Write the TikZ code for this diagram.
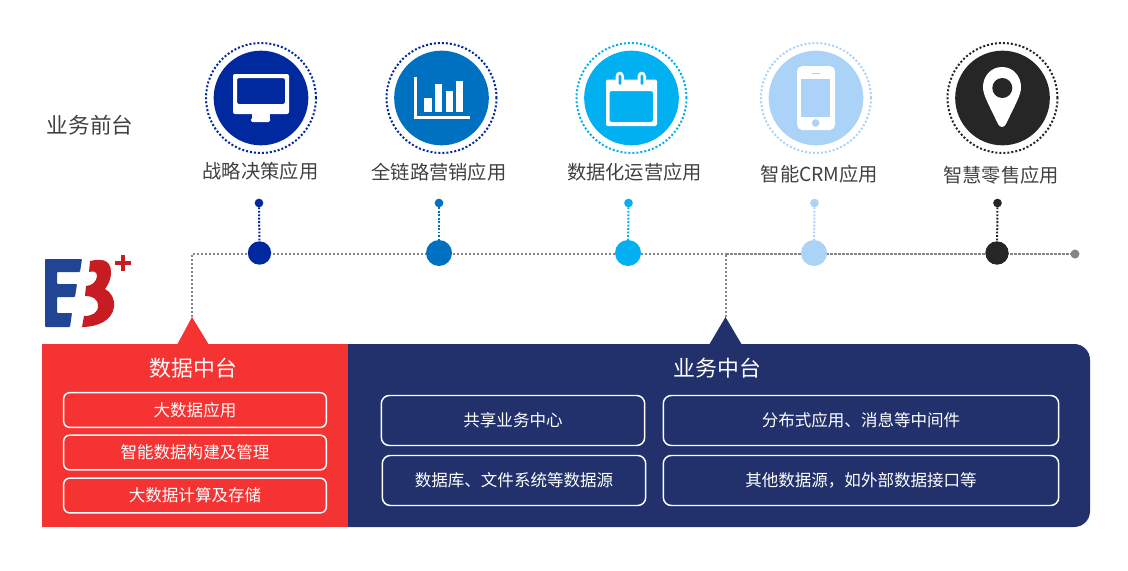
\documentclass[tikz,border=0pt]{standalone}
\usepackage{fontspec}
\setmainfont{Noto Sans CJK SC}
\usetikzlibrary{backgrounds}
\definecolor{cA}{HTML}{00289F}
\definecolor{cB}{HTML}{0070C0}
\definecolor{cC}{HTML}{00B0F0}
\definecolor{cD}{HTML}{ABD3F7}
\definecolor{cE}{HTML}{262626}
\definecolor{redp}{HTML}{F53333}
\definecolor{navyp}{HTML}{22316C}
\definecolor{logoblue}{HTML}{1F4594}
\definecolor{logored}{HTML}{C61C22}
\definecolor{tlgray}{HTML}{858585}
\definecolor{labelc}{HTML}{404040}
\tikzset{
  ringn/.style={circle,draw=#1,line width=1.5pt,dash pattern=on 1.5pt off 1.5pt,minimum size=82.5pt,inner sep=0pt,outer sep=0pt},
  disc/.style={circle,fill=#1,minimum size=71pt,inner sep=0pt,outer sep=0pt},
  hubs/.style={circle,fill=#1,minimum size=17.5pt,inner sep=0pt,outer sep=0pt},
  hubl/.style={circle,fill=#1,minimum size=19.5pt,inner sep=0pt,outer sep=0pt},
  tipn/.style={circle,fill=#1,minimum size=6.5pt,inner sep=0pt,outer sep=0pt},
  endn/.style={circle,fill=tlgray,minimum size=6.75pt,inner sep=0pt,outer sep=0pt},
  stem/.style={draw=#1,line width=1.5pt,dash pattern=on 1.4pt off 1.2pt},
  tline/.style={draw=tlgray,line width=1.5pt,dash pattern=on 1.5pt off 1.5pt},
  tlinedense/.style={draw=tlgray,line width=1.5pt,dash pattern=on 2.25pt off 0.75pt},
  applabel/.style={text=labelc,inner sep=0pt,font=\fontsize{14.45pt}{17pt}\selectfont},
  frontlabel/.style={text=labelc,inner sep=0pt,font=\fontsize{16.2pt}{19pt}\selectfont},
  paneltitle/.style={text=white,inner sep=0pt,font=\fontsize{16.4pt}{19pt}\selectfont},
  redbox/.style={draw=white,line width=1.1pt,rounded corners=4.5pt,minimum width=197pt,minimum height=#1,inner sep=0pt,text=white,font=\fontsize{12.4pt}{15pt}\selectfont},
  navybox/.style={draw=white,line width=1.1pt,rounded corners=6pt,minimum width=#1,minimum height=37.5pt,inner sep=0pt,text=white,font=\fontsize{12.4pt}{15pt}\selectfont}
}
\begin{document}
\begin{tikzpicture}[x=0.75pt,y=-0.75pt]
\useasboundingbox (0,0) rectangle (1128,571);
% panels
\fill[redp] (42,344) rectangle (348,527);
\fill[navyp] (348,344) -- (1074,344) .. controls (1083,344) and (1090,351) .. (1090,360) -- (1090,511) .. controls (1090,520) and (1083,527) .. (1074,527) -- (348,527) -- cycle;
\coordinate (dataapex) at (192,317);
\coordinate (datacorner) at (192,254);
\coordinate (bizapex) at (725.5,317);
\coordinate (bizcorner) at (725.5,254);
\fill[redp] (dataapex) -- (209,345) -- (177,345) -- cycle;
\fill[navyp] (bizapex) -- (742,345) -- (709,345) -- cycle;
% logo
\fill[logoblue,rounded corners=0.6pt] (45,259) -- (82,259) -- (80,272) -- (57,272) -- (57,284) -- (77,284) -- (75,297) -- (57,297) -- (57,313) -- (72,313) -- (70,327) -- (45,327) -- cycle;
\fill[logored] (90,261) .. controls (99,259) and (111,258) .. (111,272) .. controls (111,280) and (108,285) .. (105,289) .. controls (111,292) and (115,299) .. (114,307) .. controls (112,321) and (97,327) .. (82,327) -- (84,316) .. controls (92,316) and (98,313) .. (98,306) .. controls (98,299) and (93,296) .. (85,296) -- (86,286) .. controls (92,286) and (97,281) .. (97,276) .. controls (97,271) and (93,271) .. (89,272) -- cycle;
\fill[logored] (115,261) rectangle (131,265);
\fill[logored] (121,255) rectangle (125,271);
% icon discs and rings
\node[disc=cA] (d1) at (261,98) {};
\node[ringn=cA] (r1) at (261,98) {};
\node[disc=cB] (d2) at (441.5,98) {};
\node[ringn=cA] (r2) at (441.5,98) {};
\node[disc=cC] (d3) at (631.5,98) {};
\node[ringn=cC] (r3) at (631.5,98) {};
\node[disc=cD] (d4) at (816,98) {};
\node[ringn=cD] (r4) at (816,98) {};
\node[disc=cE] (d5) at (1002.5,98) {};
\node[ringn=cE] (r5) at (1002.5,98) {};
% monitor
\fill[white,even odd rule,rounded corners=1.5pt] (233,74) rectangle (289,114) (237,78) rectangle (285,104);
\fill[white] (252,114) rectangle (270,120);
\fill[white,rounded corners=1pt] (251,118) rectangle (270,122);
% chart
\fill[white] (414,77) rectangle (417,119);
\fill[white] (414,116) rectangle (470,119);
\fill[white] (424,98) rectangle (432,112);
\fill[white] (435,84) rectangle (442,112);
\fill[white] (446,91) rectangle (452.5,112);
\fill[white] (456,81) rectangle (463,112);
% calendar
\fill[white,even odd rule,rounded corners=1.5pt] (606,79.5) rectangle (657,126) (609.5,91) rectangle (653,122);
\fill[white,rounded corners=3.5pt] (615.5,71.5) rectangle (624,88);
\fill[white,rounded corners=3.5pt] (637.5,71.5) rectangle (646,88);
\fill[cC,rounded corners=1pt] (618.5,74.5) rectangle (621.3,85);
\fill[cC,rounded corners=1pt] (640.5,74.5) rectangle (643.3,85);
% phone
\fill[white,rounded corners=4pt] (797,66) rectangle (835,130);
\fill[cD] (801,79) rectangle (830,117);
\fill[cD] (811.5,72.5) rectangle (820,73.7);
\fill[cD] (815.7,123) circle[radius=3.8];
% pin
\fill[white] (1002,67) .. controls (1013,67) and (1021,76) .. (1021,87) .. controls (1021,95) and (1016,103) .. (1006,124) .. controls (1004,128) and (1000,128) .. (998,124) .. controls (988,103) and (983,95) .. (983,87) .. controls (983,76) and (991,67) .. (1002,67) -- cycle;
\fill[cE] (1002.3,88) circle[radius=10];
% labels
\node[frontlabel] (front) at (90,125) {业务前台};
\node[applabel] (l1) at (260.5,171) {战略决策应用};
\node[applabel] (l2) at (439,172) {全链路营销应用};
\node[applabel] (l3) at (634.5,172.5) {数据化运营应用};
\node[applabel] (l4) at (819.5,174) {智能CRM应用};
\node[applabel] (l5) at (1001,175) {智慧零售应用};
% timeline
\node[tipn=cA] (t1) at (259,203) {};
\node[tipn=cB] (t2) at (439,203) {};
\node[tipn=cC] (t3) at (628.5,203) {};
\node[tipn=cD] (t4) at (814.5,203) {};
\node[tipn=cE] (t5) at (997.5,203) {};
\node[hubs=cA] (h1) at (259.5,253) {};
\node[hubl=cB] (h2) at (439,253) {};
\node[hubl=cC] (h3) at (628,253) {};
\node[hubl=cD] (h4) at (814,253) {};
\node[hubs=cE] (h5) at (997,253) {};
\node[endn] (lineend) at (1075,254) {};
\begin{pgfonlayer}{background}
\draw[tline] (dataapex) -- (datacorner) -- (bizcorner);
\draw[tline] (bizapex) -- (bizcorner);
\draw[tlinedense] (bizcorner) -- (lineend);
\end{pgfonlayer}
\draw[stem=cA] (t1) -- (h1);
\draw[stem=cB] (t2) -- (h2);
\draw[stem=cC] (t3) -- (h3);
\draw[stem=cD] (t4) -- (h4);
\draw[stem=cE] (t5) -- (h5);
% panel text
\node[paneltitle] (datat) at (193.5,368) {数据中台};
\node[paneltitle] (bizt) at (717.5,368) {业务中台};
\node[redbox=26pt] (b1) at (195,410) {大数据应用};
\node[redbox=26pt] (b2) at (195,452.5) {智能数据构建及管理};
\node[redbox=26pt] (b3) at (195,495.5) {大数据计算及存储};
\node[navybox=197.5pt] (c1) at (513,420.5) {共享业务中心};
\node[navybox=197.5pt] (c2) at (514,480.5) {数据库、文件系统等数据源};
\node[navybox=296.5pt] (c3) at (861,420.5) {分布式应用、消息等中间件};
\node[navybox=296.5pt] (c4) at (861,480.5) {其他数据源，如外部数据接口等};
\end{tikzpicture}
\end{document}
